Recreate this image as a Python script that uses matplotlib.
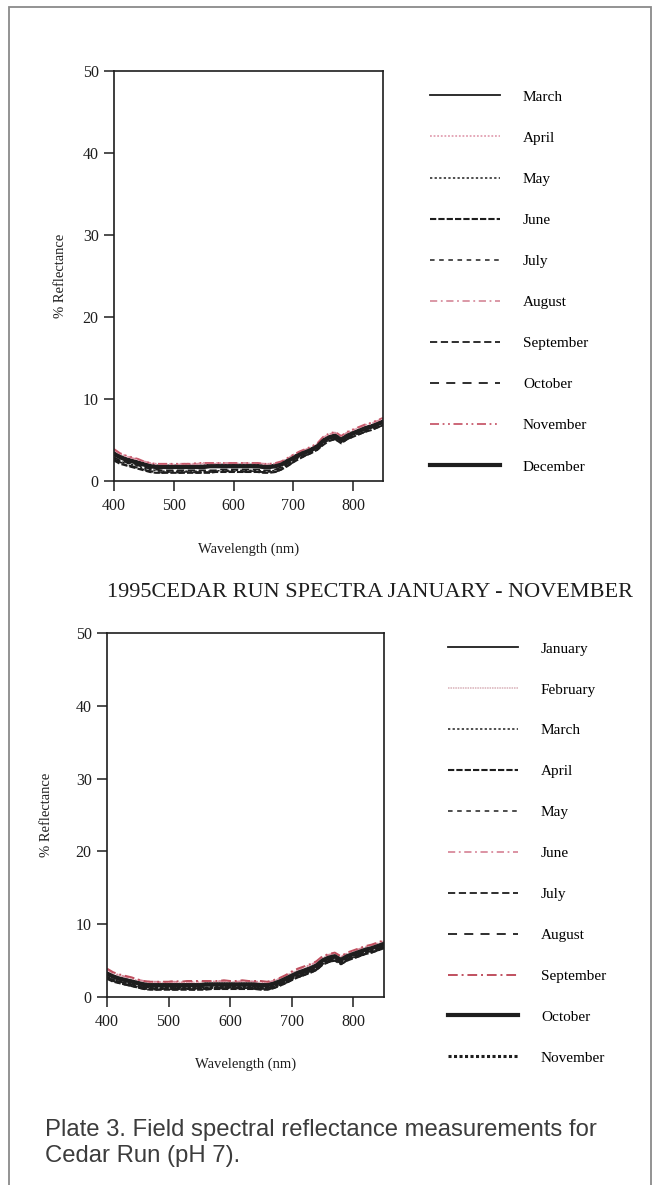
import matplotlib.pyplot as plt
from matplotlib.patches import Rectangle

W, H = 655, 1185
fig = plt.figure(figsize=(W / 100, H / 100), dpi=100)

serif = ['Liberation Serif', 'DejaVu Serif']

wavelength = [400, 410, 420, 430, 440, 450, 460, 470, 480, 490,
              500, 510, 520, 530, 540, 550, 560, 570, 580, 590,
              600, 610, 620, 630, 640, 650, 660, 670, 680, 690,
              700, 710, 720, 730, 740, 750, 760, 770, 780, 790,
              800, 810, 820, 830, 840, 850]

# ---- Upper panel: March - December ----
top_months = ['March', 'April', 'May', 'June', 'July', 'August',
              'September', 'October', 'November', 'December']

top_march = [3.5, 3.1, 2.8, 2.6, 2.4, 2.2, 2.0, 1.9, 1.9, 1.9,
             1.9, 1.9, 1.9, 1.9, 1.9, 1.9, 2.0, 2.0, 2.0, 2.0,
             2.0, 2.0, 2.0, 2.0, 2.0, 1.9, 1.9, 2.0, 2.2, 2.6,
             3.0, 3.4, 3.7, 4.0, 4.4, 5.1, 5.5, 5.7, 5.2, 5.7,
             6.0, 6.3, 6.6, 6.8, 7.1, 7.4]
top_april = [3.7, 3.3, 3.0, 2.8, 2.6, 2.3, 2.1, 2.0, 2.0, 2.1,
             2.0, 2.1, 2.1, 2.0, 2.1, 2.1, 2.1, 2.2, 2.1, 2.1,
             2.2, 2.1, 2.1, 2.2, 2.1, 2.1, 2.0, 2.1, 2.3, 2.7,
             3.1, 3.5, 3.8, 4.1, 4.5, 5.3, 5.7, 5.9, 5.4, 5.9,
             6.2, 6.5, 6.8, 7.0, 7.3, 7.6]
top_may = [2.8, 2.4, 2.2, 2.0, 1.8, 1.6, 1.4, 1.3, 1.2, 1.2,
           1.2, 1.2, 1.2, 1.2, 1.2, 1.2, 1.2, 1.2, 1.3, 1.3,
           1.3, 1.3, 1.3, 1.3, 1.3, 1.2, 1.2, 1.3, 1.6, 2.0,
           2.5, 2.9, 3.3, 3.6, 4.0, 4.7, 5.2, 5.4, 4.9, 5.4,
           5.7, 6.0, 6.3, 6.5, 6.8, 7.1]
top_june = [2.5, 2.1, 1.9, 1.7, 1.5, 1.3, 1.1, 1.0, 1.0, 1.0,
            1.0, 1.0, 1.0, 1.0, 1.0, 1.0, 1.0, 1.1, 1.1, 1.1,
            1.1, 1.1, 1.1, 1.1, 1.1, 1.0, 1.0, 1.1, 1.4, 1.8,
            2.3, 2.7, 3.1, 3.4, 3.8, 4.4, 4.9, 5.1, 4.6, 5.1,
            5.4, 5.7, 6.0, 6.2, 6.5, 6.8]
top_july = [2.6, 2.2, 2.0, 1.8, 1.6, 1.4, 1.2, 1.1, 1.1, 1.1,
            1.1, 1.1, 1.1, 1.1, 1.1, 1.1, 1.1, 1.2, 1.2, 1.2,
            1.2, 1.2, 1.2, 1.2, 1.2, 1.1, 1.1, 1.2, 1.5, 1.9,
            2.4, 2.8, 3.2, 3.5, 3.9, 4.6, 5.0, 5.2, 4.7, 5.2,
            5.5, 5.8, 6.1, 6.3, 6.6, 6.9]
top_august = [3.8, 3.3, 3.1, 2.8, 2.6, 2.4, 2.2, 2.1, 2.0, 2.0,
              2.1, 2.0, 2.1, 2.1, 2.1, 2.2, 2.1, 2.1, 2.2, 2.2,
              2.1, 2.2, 2.2, 2.1, 2.2, 2.1, 2.1, 2.1, 2.3, 2.7,
              3.2, 3.5, 3.8, 4.1, 4.5, 5.3, 5.7, 5.9, 5.4, 5.9,
              6.2, 6.5, 6.8, 7.0, 7.3, 7.6]
top_september = [2.9, 2.5, 2.3, 2.1, 1.9, 1.7, 1.5, 1.4, 1.3, 1.3,
                 1.3, 1.3, 1.3, 1.3, 1.3, 1.3, 1.3, 1.3, 1.4, 1.4,
                 1.4, 1.4, 1.4, 1.4, 1.4, 1.3, 1.3, 1.4, 1.7, 2.1,
                 2.6, 3.0, 3.4, 3.7, 4.1, 4.8, 5.3, 5.5, 5.0, 5.5,
                 5.8, 6.1, 6.4, 6.6, 6.9, 7.2]
top_october = [2.7, 2.3, 2.0, 1.8, 1.6, 1.4, 1.2, 1.1, 1.0, 1.1,
               1.1, 1.0, 1.1, 1.1, 1.0, 1.1, 1.1, 1.1, 1.1, 1.2,
               1.1, 1.2, 1.1, 1.2, 1.1, 1.1, 1.0, 1.1, 1.4, 1.8,
               2.3, 2.7, 3.1, 3.4, 3.8, 4.5, 4.9, 5.1, 4.6, 5.1,
               5.4, 5.7, 6.0, 6.2, 6.5, 6.8]
top_november = [3.9, 3.4, 3.1, 2.9, 2.7, 2.4, 2.2, 2.1, 2.1, 2.1,
                2.1, 2.1, 2.1, 2.1, 2.2, 2.2, 2.2, 2.2, 2.2, 2.2,
                2.2, 2.2, 2.2, 2.2, 2.2, 2.1, 2.1, 2.2, 2.4, 2.8,
                3.2, 3.6, 3.9, 4.2, 4.6, 5.4, 5.8, 6.0, 5.5, 6.0,
                6.3, 6.6, 6.9, 7.1, 7.4, 7.7]
top_december = [3.3, 2.9, 2.6, 2.4, 2.2, 2.0, 1.8, 1.7, 1.7, 1.7,
                1.7, 1.7, 1.7, 1.7, 1.7, 1.7, 1.8, 1.8, 1.8, 1.8,
                1.8, 1.8, 1.8, 1.8, 1.8, 1.7, 1.7, 1.8, 2.0, 2.4,
                2.8, 3.2, 3.5, 3.8, 4.2, 4.9, 5.3, 5.5, 5.0, 5.5,
                5.8, 6.1, 6.4, 6.6, 6.9, 7.2]

# ---- Lower panel: January - November ----
bot_months = ['January', 'February', 'March', 'April', 'May', 'June',
              'July', 'August', 'September', 'October', 'November']

bot_january = [3.4, 3.0, 2.7, 2.5, 2.3, 2.1, 1.9, 1.8, 1.8, 1.8,
               1.8, 1.8, 1.8, 1.8, 1.8, 1.8, 1.9, 1.9, 1.9, 1.9,
               1.9, 1.9, 1.9, 1.9, 1.9, 1.8, 1.8, 2.0, 2.3, 2.7,
               3.1, 3.5, 3.8, 4.1, 4.5, 5.2, 5.5, 5.7, 5.2, 5.7,
               6.0, 6.3, 6.6, 6.8, 7.1, 7.4]
bot_february = [3.6, 3.2, 2.9, 2.7, 2.5, 2.3, 2.1, 2.0, 2.0, 2.0,
                2.0, 2.0, 2.0, 2.0, 2.0, 2.0, 2.1, 2.1, 2.1, 2.1,
                2.1, 2.1, 2.1, 2.1, 2.1, 2.0, 2.0, 2.2, 2.5, 2.9,
                3.3, 3.7, 4.0, 4.3, 4.7, 5.4, 5.7, 5.9, 5.4, 5.9,
                6.2, 6.5, 6.8, 7.0, 7.3, 7.6]
bot_march = [2.8, 2.4, 2.2, 2.0, 1.8, 1.6, 1.4, 1.3, 1.3, 1.3,
             1.3, 1.3, 1.3, 1.3, 1.3, 1.3, 1.3, 1.3, 1.4, 1.4,
             1.4, 1.4, 1.4, 1.4, 1.4, 1.3, 1.3, 1.5, 1.8, 2.2,
             2.6, 3.0, 3.3, 3.6, 4.0, 4.7, 5.1, 5.3, 4.8, 5.3,
             5.6, 5.9, 6.2, 6.4, 6.7, 7.0]
bot_april = [2.5, 2.1, 1.9, 1.7, 1.5, 1.3, 1.1, 1.0, 1.0, 1.0,
             1.0, 1.0, 1.0, 1.0, 1.0, 1.0, 1.0, 1.1, 1.1, 1.1,
             1.1, 1.1, 1.1, 1.1, 1.1, 1.0, 1.0, 1.2, 1.5, 1.9,
             2.3, 2.7, 3.0, 3.3, 3.7, 4.4, 4.8, 5.0, 4.5, 5.0,
             5.3, 5.6, 5.9, 6.1, 6.4, 6.7]
bot_may = [2.6, 2.2, 2.0, 1.8, 1.6, 1.4, 1.2, 1.1, 1.1, 1.1,
           1.1, 1.1, 1.1, 1.1, 1.1, 1.1, 1.1, 1.2, 1.2, 1.2,
           1.2, 1.2, 1.2, 1.2, 1.2, 1.1, 1.1, 1.3, 1.6, 2.0,
           2.4, 2.8, 3.1, 3.4, 3.8, 4.5, 4.9, 5.1, 4.6, 5.1,
           5.4, 5.7, 6.0, 6.2, 6.5, 6.8]
bot_june = [3.8, 3.3, 3.0, 2.8, 2.6, 2.4, 2.2, 2.1, 2.1, 2.0,
            2.1, 2.1, 2.0, 2.1, 2.1, 2.1, 2.2, 2.1, 2.2, 2.2,
            2.2, 2.1, 2.2, 2.2, 2.1, 2.1, 2.0, 2.2, 2.5, 2.9,
            3.4, 3.8, 4.1, 4.4, 4.8, 5.5, 5.8, 6.0, 5.5, 6.0,
            6.3, 6.6, 6.9, 7.1, 7.4, 7.7]
bot_july = [2.7, 2.3, 2.1, 1.9, 1.7, 1.5, 1.3, 1.2, 1.2, 1.2,
            1.2, 1.2, 1.2, 1.2, 1.2, 1.2, 1.2, 1.2, 1.3, 1.3,
            1.3, 1.3, 1.3, 1.3, 1.3, 1.2, 1.2, 1.4, 1.7, 2.1,
            2.5, 2.9, 3.2, 3.5, 3.9, 4.6, 5.0, 5.2, 4.7, 5.2,
            5.5, 5.8, 6.1, 6.3, 6.6, 6.9]
bot_august = [2.6, 2.2, 1.9, 1.7, 1.5, 1.3, 1.1, 1.1, 1.0, 1.1,
              1.1, 1.0, 1.1, 1.1, 1.0, 1.1, 1.1, 1.1, 1.1, 1.2,
              1.1, 1.2, 1.1, 1.2, 1.1, 1.1, 1.0, 1.2, 1.5, 1.9,
              2.3, 2.7, 3.0, 3.3, 3.7, 4.4, 4.8, 5.0, 4.5, 5.0,
              5.3, 5.6, 5.9, 6.1, 6.4, 6.7]
bot_september = [3.9, 3.4, 3.1, 2.9, 2.7, 2.4, 2.2, 2.1, 2.1, 2.1,
                 2.1, 2.2, 2.1, 2.2, 2.2, 2.2, 2.2, 2.2, 2.2, 2.3,
                 2.2, 2.2, 2.3, 2.2, 2.2, 2.2, 2.1, 2.3, 2.6, 3.0,
                 3.5, 3.9, 4.2, 4.5, 4.9, 5.6, 5.9, 6.1, 5.6, 6.1,
                 6.4, 6.7, 7.0, 7.2, 7.5, 7.8]
bot_october = [3.2, 2.8, 2.5, 2.3, 2.1, 1.9, 1.7, 1.6, 1.6, 1.6,
               1.6, 1.6, 1.6, 1.6, 1.6, 1.6, 1.7, 1.7, 1.7, 1.7,
               1.7, 1.7, 1.7, 1.7, 1.7, 1.6, 1.6, 1.8, 2.1, 2.5,
               2.9, 3.3, 3.6, 3.9, 4.3, 5.0, 5.4, 5.6, 5.1, 5.6,
               5.9, 6.2, 6.5, 6.7, 7.0, 7.3]
bot_november = [2.7, 2.3, 2.0, 1.8, 1.6, 1.4, 1.3, 1.2, 1.2, 1.2,
                1.2, 1.2, 1.2, 1.2, 1.2, 1.2, 1.2, 1.3, 1.3, 1.3,
                1.3, 1.3, 1.3, 1.3, 1.3, 1.2, 1.2, 1.4, 1.7, 2.1,
                2.5, 2.9, 3.2, 3.5, 3.9, 4.6, 5.0, 5.2, 4.7, 5.2,
                5.5, 5.8, 6.1, 6.3, 6.6, 6.9]

top_series = [top_march, top_april, top_may, top_june, top_july, top_august,
              top_september, top_october, top_november, top_december]
bot_series = [bot_january, bot_february, bot_march, bot_april, bot_may, bot_june,
              bot_july, bot_august, bot_september, bot_october, bot_november]

# line styles (color, linestyle, width)
K = '#1e1e1e'
top_styles = [
    (K, '-', 1.3),
    ('#e2a0b2', (0, (1, 1)), 1.3),
    (K, (0, (1.5, 1.5)), 1.1),
    (K, (0, (3, 1)), 1.5),
    (K, (0, (3, 3)), 1.1),
    ('#d8909f', (0, (4, 2, 1, 2)), 1.3),
    (K, (0, (4, 2)), 1.3),
    (K, (0, (5, 4)), 1.3),
    ('#c85a6c', (0, (5, 2, 1, 2, 1, 2)), 1.3),
    (K, '-', 3.0),
]
bot_styles = [
    (K, '-', 1.3),
    ('#d8b0b8', (0, (1, 0.6)), 1.1),
    (K, (0, (1.5, 1.5)), 1.1),
    (K, (0, (3, 1)), 1.5),
    (K, (0, (3, 3)), 1.1),
    ('#d98a9c', (0, (4, 2, 1, 2)), 1.3),
    (K, (0, (4, 2)), 1.3),
    (K, (0, (5, 4)), 1.3),
    ('#c0505f', (0, (5, 2, 1, 2)), 1.4),
    (K, '-', 3.0),
    (K, (0, (1, 0.8)), 2.2),
]


def panel(rect, series, styles, labels, leg_xy, leg_pitch):
    ax = fig.add_axes(rect)
    lines = []
    for ys, (c, ls, lw), lab in zip(series, styles, labels):
        ln, = ax.plot(wavelength, ys, color=c, linestyle=ls, linewidth=lw, label=lab)
        lines.append(ln)
    ax.set_xlim(400, 850)
    ax.set_ylim(0, 50)
    ax.set_xticks([400, 500, 600, 700, 800])
    ax.set_yticks([0, 10, 20, 30, 40, 50])
    ax.tick_params(direction='out', length=7, width=1.1, colors=K, labelsize=11.5, pad=4)
    for t in ax.get_xticklabels() + ax.get_yticklabels():
        t.set_family(serif)
    ax.tick_params(axis='x', pad=5)
    for s in ax.spines.values():
        s.set_linewidth(1.2)
        s.set_color(K)
    ax.set_xlabel('Wavelength (nm)', family=serif, fontsize=10.5, color=K)
    ax.set_ylabel('% Reflectance', family=serif, fontsize=10.5, color=K)
    fs = 11 * 100 / 72
    ax.legend(handles=lines, loc='upper left', frameon=False,
              bbox_to_anchor=(leg_xy[0] / W, 1 - leg_xy[1] / H), bbox_transform=fig.transFigure,
              borderaxespad=0, borderpad=0, handlelength=70 / fs, handletextpad=23 / fs,
              labelspacing=(leg_pitch - 13.7) / fs, prop={'family': serif, 'size': 11})
    return ax


# axes boxes in pixel coordinates: left, top, right, bottom
def rect_px(l, t, r, b):
    return [l / W, 1 - b / H, (r - l) / W, (b - t) / H]


ax1 = panel(rect_px(114, 71, 383, 481), top_series, top_styles, top_months, (430, 90), 41.1)
ax1.xaxis.set_label_coords(0.5, -62 / 410)
ax1.yaxis.set_label_coords(-47 / 269, 0.5)

ax2 = panel(rect_px(107, 633, 384, 997), bot_series, bot_styles, bot_months, (448, 642), 40.9)
ax2.xaxis.set_label_coords(0.5, -61 / 364)
ax2.yaxis.set_label_coords(-54 / 277, 0.5)

fig.text(107 / W, 1 - 592 / H, '1995CEDAR RUN SPECTRA JANUARY - NOVEMBER',
         family=serif, fontsize=16, color=K, ha='left', va='center')

fig.text(45 / W, 1 - 1130 / H, 'Plate 3. Field spectral reflectance measurements for',
         family=['Liberation Sans', 'DejaVu Sans'], fontsize=17.2, color='#3c3c3c', ha='left', va='center')
fig.text(45 / W, 1 - 1156 / H, 'Cedar Run (pH 7).',
         family=['Liberation Sans', 'DejaVu Sans'], fontsize=17.2, color='#3c3c3c', ha='left', va='center')

# page frame around the plate
fig.add_artist(Rectangle((9 / W, -0.02), 642 / W, 1.02 - 7 / H, transform=fig.transFigure,
                         fill=False, edgecolor='#8a8a8a', linewidth=1.3))

fig.savefig('out.png', dpi=100)
